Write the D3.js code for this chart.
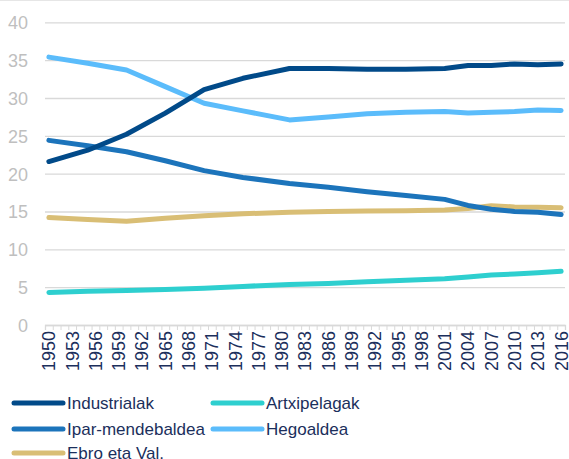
<!DOCTYPE html>
<meta charset="utf-8">
<script src="https://d3js.org/d3.v7.min.js"></script>
<style>
  body { margin: 0; background: #fff; }
  text { font-family: "Liberation Sans", Arial, sans-serif; }
</style>
<div id="chart"></div>
<script>
    // values
    var years = [1950, 1955, 1960, 1965, 1970, 1975, 1981, 1986, 1991, 1996, 2001, 2004, 2007, 2010, 2013, 2016];
    var industrialak = [21.6, 23.1, 25.2, 28.0, 31.1, 32.6, 33.9, 33.9, 33.8, 33.8, 33.9, 34.3, 34.3, 34.5, 34.4, 34.5];
    var ipar = [24.4, 23.7, 22.9, 21.7, 20.4, 19.5, 18.7, 18.2, 17.6, 17.1, 16.6, 15.8, 15.3, 15.0, 14.9, 14.6];
    var ebro = [14.2, 13.95, 13.7, 14.1, 14.45, 14.7, 14.9, 15.0, 15.05, 15.1, 15.2, 15.4, 15.75, 15.6, 15.55, 15.5];
    var artxipelagak = [4.3, 4.45, 4.55, 4.7, 4.85, 5.1, 5.35, 5.5, 5.7, 5.9, 6.1, 6.35, 6.6, 6.75, 6.9, 7.1];
    var hegoaldea = [35.4, 34.6, 33.7, 31.5, 29.3, 28.3, 27.1, 27.5, 27.9, 28.1, 28.2, 28.0, 28.1, 28.2, 28.4, 28.35];
    var yTicks = [0, 5, 10, 15, 20, 25, 30, 35, 40];

    var series = [
        {name: "Industrialak", values: industrialak, color: "#014A89"},
        {name: "Artxipelagak", values: artxipelagak, color: "#2ECFCF"},
        {name: "Ipar-mendebaldea", values: ipar, color: "#1C74BB"},
        {name: "Hegoaldea", values: hegoaldea, color: "#5BBCFB"},
        {name: "Ebro eta Val.", values: ebro, color: "#D9BE75"}
    ];

    var width = 569, height = 459;
    var plotLeft = 45, plotRight = 565, plotTop = 22.3, plotBottom = 325;

    var svg = d3.select("#chart").append("svg")
        .attr("width", width)
        .attr("height", height);

    var x = d3.scaleLinear().domain([1949.5, 2016.5]).range([plotLeft, plotRight]);
    var y = d3.scaleLinear().domain([0, 40]).range([plotBottom, plotTop]);

    // top border
    svg.append("line")
        .attr("x1", 0).attr("x2", width)
        .attr("y1", 0.5).attr("y2", 0.5)
        .attr("stroke", "#E6E6E6");

    // gridlines + y labels
    var gy = svg.append("g")
        .attr("transform", "translate(" + plotLeft + ",0)")
        .call(d3.axisLeft(y).tickValues(yTicks).tickSize(-(plotRight - plotLeft)).tickPadding(17));
    gy.select(".domain").remove();
    gy.selectAll(".tick line").attr("stroke", "#D9D9D9").attr("stroke-width", 1.3);
    gy.selectAll(".tick text")
        .attr("fill", "#BFBFBF")
        .style("font-size", "18px")
        .attr("dy", "0.36em");

    // x axis: ticks between years
    var gx = svg.append("g")
        .attr("transform", "translate(0," + plotBottom + ")")
        .call(d3.axisBottom(x).tickValues(d3.range(1949.5, 2017, 1)).tickSize(5).tickFormat(""));
    gx.select(".domain").attr("stroke", "#D9D9D9").attr("stroke-width", 1.3);
    gx.selectAll(".tick line").attr("stroke", "#D9D9D9");

    var labelYears = d3.range(1950, 2017, 3);
    svg.append("g").selectAll("text")
        .data(labelYears)
        .enter().append("text")
        .attr("transform", function(d) { return "translate(" + x(d) + "," + (plotBottom + 6) + ") rotate(-90)"; })
        .attr("text-anchor", "end")
        .attr("dy", "0.36em")
        .attr("fill", "#1B2F5C")
        .style("font-size", "18px")
        .text(function(d) { return d; });

    var line = d3.line()
        .x(function(d, i) { return x(years[i]); })
        .y(function(d) { return y(d); });

    var drawOrder = [4, 1, 2, 3, 0];
    svg.append("g").selectAll("path")
        .data(drawOrder.map(function(i) { return series[i]; }))
        .enter().append("path")
        .attr("d", function(d) { return line(d.values); })
        .attr("fill", "none")
        .attr("stroke", function(d) { return d.color; })
        .attr("stroke-width", 5)
        .attr("stroke-linecap", "round")
        .attr("stroke-linejoin", "round");

    // legend
    var rows = [403, 429, 453];
    var cols = [14, 213];
    var legend = svg.append("g").selectAll("g")
        .data(series)
        .enter().append("g")
        .attr("transform", function(d, i) { return "translate(" + cols[i % 2] + "," + rows[Math.floor(i / 2)] + ")"; });
    legend.append("line")
        .attr("x1", 0).attr("x2", 49)
        .attr("stroke", function(d) { return d.color; })
        .attr("stroke-width", 5)
        .attr("stroke-linecap", "round");
    legend.append("text")
        .attr("x", 53)
        .attr("dy", "0.36em")
        .attr("fill", "#1B2F5C")
        .style("font-size", "17px")
        .text(function(d) { return d.name; });
</script>
